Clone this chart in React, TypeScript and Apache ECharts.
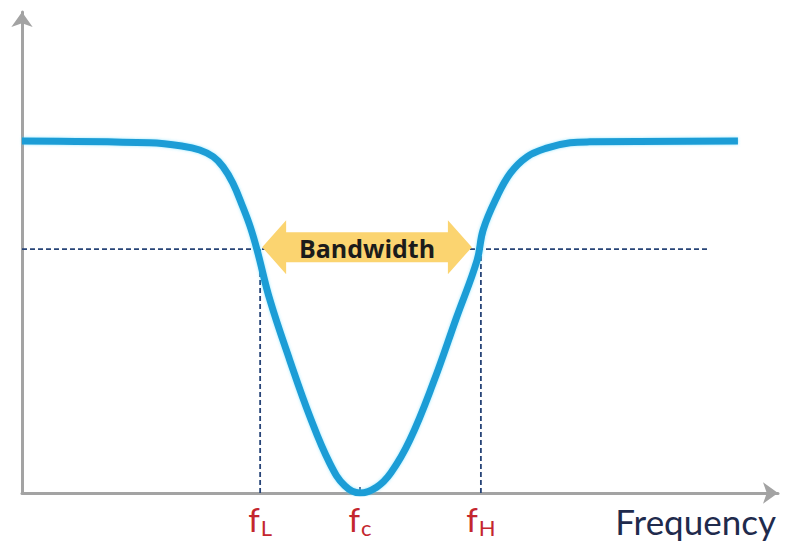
import React, { useEffect, useRef } from "react";
import * as echarts from "echarts";

// Response curve (frequency in arbitrary units 0..100, amplitude 0..100)
const curveX = [0, 16.9, 21.3, 23.5, 25.3, 26.6, 27.9, 29.2, 30.2, 31.1, 32.8, 35.4, 38.1, 40.7, 42.7, 44.7, 46.9, 48.8, 51.3, 54.4, 57.5, 60.2, 61.0, 62.8, 64.6, 66.8, 69.4, 72.5, 75.1, 94.7];
const curveY = [73.2, 72.8, 72.1, 71.3, 69.9, 67.8, 64.4, 59.5, 55.3, 50.5, 40.1, 27.7, 15.8, 6.2, 1.5, 0, 1.2, 4.2, 11.0, 22.9, 36.6, 48.4, 54.7, 61.5, 66.5, 69.9, 71.7, 72.8, 73.0, 73.2];

const cutoffLevel = 50.7;
const cutoffLineEnd = 91;
const fL = 31.5;
const fC = 44.7;
const fH = 60.7;
const tickValues = [fL, fC, fH];
const tickSubscripts = ["L", "c", "H"];
const axisTitle = "Frequency";
const bandLabel = "Bandwidth";

export default function App() {
  const ref = useRef<HTMLDivElement>(null);

  useEffect(() => {
    document.body.style.margin = "0";
    if (!ref.current) return;
    const chart = echarts.init(ref.current, undefined, { renderer: "svg" });
    const dash = { color: "#274477", width: 1.8, type: [5, 3] as any };
    chart.setOption({
      animation: false,
      backgroundColor: "#ffffff",
      grid: { left: 22, top: 12, width: 756, height: 481 },
      xAxis: {
        type: "value",
        min: 0,
        max: 100,
        splitLine: { show: false },
        axisLine: {
          show: true,
          symbol: ["none", "arrow"],
          symbolSize: [16, 15],
          lineStyle: { color: "#a3a3a3", width: 3 },
        },
        axisTick: {
          show: true,
          customValues: [fC],
          inside: true,
          length: 6,
          lineStyle: { color: "#274477", width: 1.5 },
        },
        axisLabel: {
          show: true,
          customValues: tickValues,
          margin: 6,
          formatter: (v: number) => {
            let idx = 0;
            let best = Infinity;
            tickValues.forEach((t, i) => {
              if (Math.abs(t - v) < best) {
                best = Math.abs(t - v);
                idx = i;
              }
            });
            return "{f|f}{s|" + tickSubscripts[idx] + "}";
          },
          rich: {
            f: { fontSize: 33, color: "#c4262e", fontFamily: "Lato" },
            s: { fontSize: 22, color: "#c4262e", fontFamily: "Lato", padding: [17, 0, 0, 1] },
          },
        },
      },
      yAxis: {
        type: "value",
        min: 0,
        max: 100,
        splitLine: { show: false },
        axisLabel: { show: false },
        axisTick: { show: false },
        axisLine: {
          show: true,
          symbol: ["none", "arrow"],
          symbolSize: [16, 15],
          lineStyle: { color: "#a3a3a3", width: 3 },
        },
      },
      series: [
        {
          type: "line",
          data: [[0, cutoffLevel], [cutoffLineEnd, cutoffLevel]],
          symbol: "none",
          lineStyle: dash,
          z: 2,
        },
        {
          type: "line",
          data: [[fL, 0], [fL, cutoffLevel]],
          symbol: "none",
          lineStyle: dash,
          z: 2,
        },
        {
          type: "line",
          data: [[fH, 0], [fH, cutoffLevel]],
          symbol: "none",
          lineStyle: dash,
          z: 2,
        },
        {
          type: "line",
          data: curveX.map((x, i) => [x, curveY[i]]),
          symbol: "none",
          smooth: 0.4,
          lineStyle: {
            color: "#1c9dd6",
            width: 7,
            shadowColor: "rgba(60,210,255,0.55)",
            shadowBlur: 3,
          },
          z: 3,
        },
      ],
    });

    const pL = chart.convertToPixel({ gridIndex: 0 }, [fL, cutoffLevel]) as number[];
    const pH = chart.convertToPixel({ gridIndex: 0 }, [fH, cutoffLevel]) as number[];
    const x1 = pL[0] + 2;
    const x2 = pH[0] - 9;
    const cy = pL[1] - 2;
    const head = 24;
    const halfHead = 27;
    const halfBody = 15;
    chart.setOption({
      graphic: [
        {
          type: "polygon",
          z: 10,
          shape: {
            points: [
              [x1, cy],
              [x1 + head, cy - halfHead],
              [x1 + head, cy - halfBody],
              [x2 - head, cy - halfBody],
              [x2 - head, cy - halfHead],
              [x2, cy],
              [x2 - head, cy + halfHead],
              [x2 - head, cy + halfBody],
              [x1 + head, cy + halfBody],
              [x1 + head, cy + halfHead],
            ],
          },
          style: { fill: "#fbd470" },
        },
        {
          type: "text",
          z: 11,
          x: (x1 + x2) / 2,
          y: cy + 1,
          style: {
            text: bandLabel,
            font: "bold 25px 'Open Sans'",
            fill: "#1b1b1b",
            align: "center",
            verticalAlign: "middle",
          },
        },
        {
          type: "text",
          z: 11,
          right: 14,
          top: 503,
          style: {
            text: axisTitle,
            font: "35px Lato",
            fill: "#1f2b4d",
          },
        },
      ],
    });

    return () => chart.dispose();
  }, []);

  return <div ref={ref} style={{ width: 790, height: 552 }} />;
}
